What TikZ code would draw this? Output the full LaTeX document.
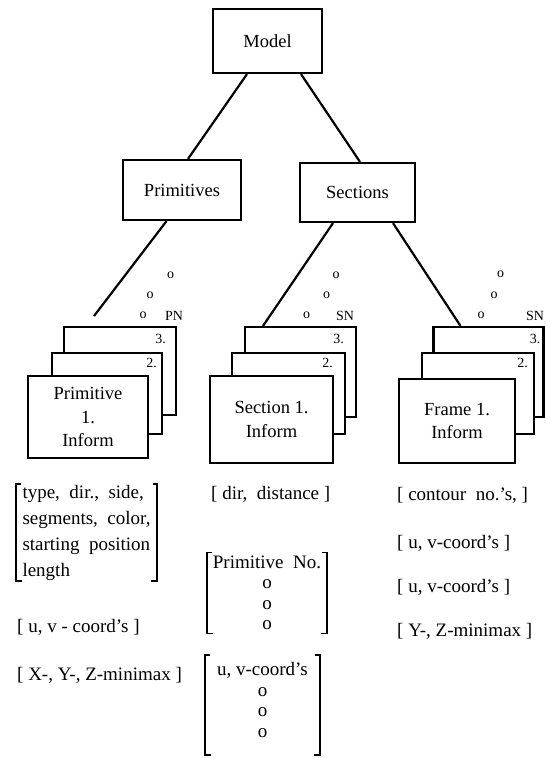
\documentclass[tikz,border=0pt]{standalone}
\usepackage{fontspec}
\setmainfont{Liberation Serif}
\usetikzlibrary{positioning}

\begin{document}
\begin{tikzpicture}[
    x=1pt, y=-1pt,
    box/.style={draw,line width=2.2pt,fill=white,align=center,inner sep=0pt,
      font=\fontsize{18.5}{23.5}\selectfont},
    card/.style={box,minimum width=112pt,minimum height=88pt},
    num/.style={font=\fontsize{14}{14}\selectfont,inner sep=0pt},
    info/.style={font=\fontsize{19}{26}\selectfont,inner sep=0pt,anchor=west},
    col/.style={font=\fontsize{19}{20.5}\selectfont,inner sep=0pt,align=center},
    brk/.style={line width=1.5pt},
    edge/.style={line width=2.2pt},
  ]
  \useasboundingbox (0,0) rectangle (546,758);

  % Root node and first level
  \node[box,minimum width=109pt,minimum height=64pt] (model) at (267.5,41) {Model};
  \node[box,minimum width=118pt,minimum height=60pt] (prims) at (182,190) {Primitives};
  \node[box,minimum width=115pt,minimum height=59pt] (sects) at (357.5,192.5) {Sections};

  % Primitive cards
  \node[card] (prim3) at (120,371) {};
  \node[num,below left=8pt and 11pt of prim3.north east] (prim3n) {3.};
  \node[card,minimum width=110pt,minimum height=81pt] (prim2) at (107,393.5) {};
  \node[num,below left=6pt and 6pt of prim2.north east] (prim2n) {2.};
  \node[card,minimum width=120pt,minimum height=82pt] (prim1) at (88,417) {Primitive\\1.\\Inform};
  \node[num] (pdot1) at (170.5,275) {o};
  \node[num] (pdot2) at (150,295) {o};
  \node[num] (pdot3) at (143,315.5) {o};
  \node[num] (pn) at (174,315.5) {PN};

  % Section cards
  \node[card,minimum width=111pt,minimum height=90pt] (sec3) at (300.5,372) {};
  \node[num,below left=8pt and 13pt of sec3.north east] (sec3n) {3.};
  \node[card,minimum width=113pt,minimum height=81pt] (sec2) at (288.5,393.5) {};
  \node[num,below left=6pt and 13pt of sec2.north east] (sec2n) {2.};
  \node[card,minimum width=123pt,minimum height=87pt] (sec1) at (271.5,419.5) {Section 1.\\Inform};
  \node[num] (sdot1) at (336,275) {o};
  \node[num] (sdot2) at (326.5,295) {o};
  \node[num] (sdot3) at (306.5,315.5) {o};
  \node[num] (sn) at (345,315.5) {SN};

  % Frame cards
  \node[card,minimum width=110pt,minimum height=90pt] (frm3) at (488.5,372) {};
  \node[num,below left=8pt and 4pt of frm3.north east] (frm3n) {3.};
  \node[card,minimum width=112pt,minimum height=81pt] (frm2) at (478,393.5) {};
  \node[num,below left=6pt and 7pt of frm2.north east] (frm2n) {2.};
  \node[card,minimum width=116pt,minimum height=84pt] (frm1) at (457,421) {Frame 1.\\Inform};
  \node[num] (fdot1) at (500.5,274) {o};
  \node[num] (fdot2) at (494,295) {o};
  \node[num] (fdot3) at (481,315.5) {o};
  \node[num] (fsn) at (535,315.5) {SN};

  % tree lines
  \coordinate (pend) at (94,316);
  \draw[edge] ([xshift=-20.5pt]model.south) -- ([xshift=6pt]prims.north);
  \draw[edge] ([xshift=33.5pt]model.south) -- ([xshift=2.5pt]sects.north);
  \draw[edge] ([xshift=-15.5pt]prims.south) -- (pend);
  \draw[edge] ([xshift=-24.5pt]sects.south) -- ([xshift=-37.5pt]sec3.north);
  \draw[edge] ([xshift=35.5pt]sects.south) -- ([xshift=-28pt]frm3.north);

  % primitive data
  \node[col,align=left,font=\fontsize{19}{26}\selectfont,minimum width=141pt,minimum height=97pt] (pattr) at (86.5,532.5)
    {type,\ \ dir.,\ \ side,\\segments,\ \ color,\\starting\ \ position\\length};
  \draw[brk] ([xshift=5pt]pattr.north west) -- (pattr.north west) -- (pattr.south west) -- ++(6pt,0);
  \draw[brk] ([xshift=-4pt]pattr.north east) -- (pattr.north east) -- (pattr.south east) -- ++(-6pt,0);
  \node[info] (puv) at (17,627) {[ u, v - coord's ]};
  \node[info] (pmm) at (17,675) {[ X-, Y-, Z-minimax ]};

  % section data
  \node[info] (sdir) at (211,494) {[ dir,\ \ distance ]};
  \node[col,minimum width=120pt,minimum height=81pt] (sprim) at (267,593) {Primitive\ \ No.\\o\\o\\o};
  \draw[brk] ([xshift=5pt]sprim.north west) -- (sprim.north west) -- (sprim.south west) -- ++(6pt,0);
  \draw[brk] ([xshift=-5pt]sprim.north east) -- (sprim.north east) -- (sprim.south east) -- ++(-6pt,0);
  \node[col,minimum width=115pt,minimum height=90pt] (suv) at (262.5,700) {u, v-coord's\\o\\o\\o};
  \draw[brk] ([xshift=5pt]suv.north west) -- (suv.north west) -- ([yshift=-10pt]suv.south west) -- ++(6pt,0);
  \draw[brk] ([xshift=-5pt]suv.north east) -- (suv.north east) -- ([yshift=-10pt]suv.south east) -- ++(-6pt,0);

  % frame data
  \node[info] (fcon) at (397,495) {[ contour\ \ no.'s, ]};
  \node[info] (fuv1) at (397,543) {[ u, v-coord's ]};
  \node[info] (fuv2) at (397,587) {[ u, v-coord's ]};
  \node[info] (fmm) at (397,631) {[ Y-, Z-minimax ]};
\end{tikzpicture}
\end{document}
